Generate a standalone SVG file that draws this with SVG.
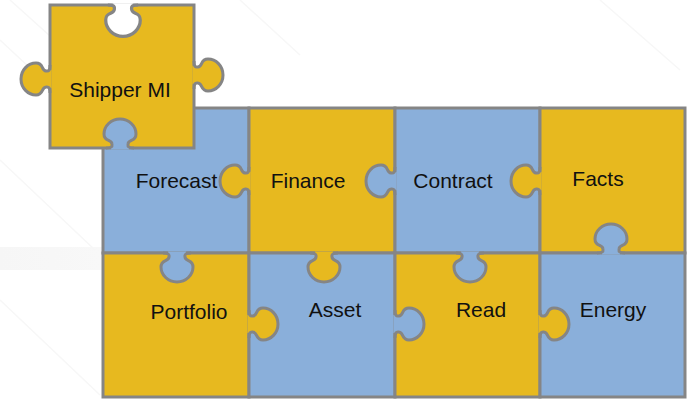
<svg xmlns="http://www.w3.org/2000/svg" xmlns:xlink="http://www.w3.org/1999/xlink" width="690" height="399" viewBox="0 0 690 399">
<style>
.y{fill:#E7B91F}
.b{fill:#8AAFDA}
.w{fill:#FFFFFF}
.pc{stroke:#858585;stroke-width:3}
.kl{fill:none;stroke:#858585;stroke-width:3;stroke-linejoin:round}
.t{font-family:"Liberation Sans",Arial,sans-serif;font-size:21px;fill:#111111;text-anchor:middle}
.bg{stroke:#f7f7f7;stroke-width:1.5;fill:none}
</style>
<defs>
<path id="kline" d="M -14 0 C -9 0 -7.5 1 -8 4 C -8.5 9 -16 6 -16 14 C -16 22 -9 29 0 29 C 9 29 16 22 16 14 C 16 6 8.5 9 8 4 C 7.5 1 9 0 14 0"/>
<path id="kfill" d="M -14 0 C -9 0 -7.5 1 -8 4 C -8.5 9 -16 6 -16 14 C -16 22 -9 29 0 29 C 9 29 16 22 16 14 C 16 6 8.5 9 8 4 C 7.5 1 9 0 14 0 L 9 0 L 9 -1.6 L -9 -1.6 L -9 0 Z"/>
<linearGradient id="band" x1="0" y1="0" x2="1" y2="0">
<stop offset="0" stop-color="#f6f6f6"/>
<stop offset="1" stop-color="#f8f8f8"/>
</linearGradient>
</defs>
<rect x="0" y="0" width="690" height="399" fill="#ffffff"/>
<g id="background">
<rect x="0" y="247" width="103" height="23" fill="url(#band)"/>
<path class="bg" d="M0 160 L95 250 M0 300 L100 395 M10 0 L60 45 M0 40 L30 68 M240 0 L300 55 M600 0 L680 70"/>
</g>
<g id="connectors"/>
<g id="forecast">
<rect class="b pc" x="103" y="108" width="146" height="145"/>
<text class="t" x="176.5" y="188">Forecast</text>
</g>
<g id="finance">
<rect class="y pc" x="249" y="108" width="146" height="145"/>
<g transform="translate(249,181) rotate(90)"><use href="#kfill" class="y"/><use href="#kline" class="kl"/></g>
<text class="t" x="308" y="188">Finance</text>
</g>
<g id="contract">
<rect class="b pc" x="395" y="108" width="145" height="145"/>
<g transform="translate(395,181) rotate(90)"><use href="#kfill" class="b"/><use href="#kline" class="kl"/></g>
<text class="t" x="453" y="188">Contract</text>
</g>
<g id="facts">
<rect class="y pc" x="540" y="108" width="145" height="145"/>
<g transform="translate(540,181) rotate(90)"><use href="#kfill" class="y"/><use href="#kline" class="kl"/></g>
<text class="t" x="598" y="186">Facts</text>
</g>
<g id="portfolio">
<rect class="y pc" x="103" y="253" width="146" height="144"/>
<g transform="translate(177,253)"><use href="#kfill" class="b"/><use href="#kline" class="kl"/></g>
<text class="t" x="189" y="319">Portfolio</text>
</g>
<g id="asset">
<rect class="b pc" x="249" y="253" width="146" height="144"/>
<g transform="translate(324,253)"><use href="#kfill" class="y"/><use href="#kline" class="kl"/></g>
<g transform="translate(249,324) rotate(-90)"><use href="#kfill" class="y"/><use href="#kline" class="kl"/></g>
<text class="t" x="335" y="317">Asset</text>
</g>
<g id="read">
<rect class="y pc" x="395" y="253" width="145" height="144"/>
<g transform="translate(470,253)"><use href="#kfill" class="b"/><use href="#kline" class="kl"/></g>
<g transform="translate(395,324) rotate(-90)"><use href="#kfill" class="b"/><use href="#kline" class="kl"/></g>
<text class="t" x="481" y="317">Read</text>
</g>
<g id="energy">
<rect class="b pc" x="540" y="253" width="145" height="144"/>
<g transform="translate(611,253) rotate(180)"><use href="#kfill" class="b"/><use href="#kline" class="kl"/></g>
<g transform="translate(540,324) rotate(-90)"><use href="#kfill" class="y"/><use href="#kline" class="kl"/></g>
<text class="t" x="613" y="317">Energy</text>
</g>
<g id="shipper-mi">
<rect class="y pc" x="50" y="5" width="144" height="143"/>
<g transform="translate(50,79) rotate(90)"><use href="#kfill" class="y"/><use href="#kline" class="kl"/></g>
<g transform="translate(194,75) rotate(-90)"><use href="#kfill" class="y"/><use href="#kline" class="kl"/></g>
<g transform="translate(123,5) scale(1.08)"><use href="#kfill" class="w"/><use href="#kline" class="kl"/></g>
<g transform="translate(120,148) rotate(180)"><use href="#kfill" class="b"/><use href="#kline" class="kl"/></g>
<text class="t" x="120" y="97">Shipper MI</text>
</g>
</svg>
